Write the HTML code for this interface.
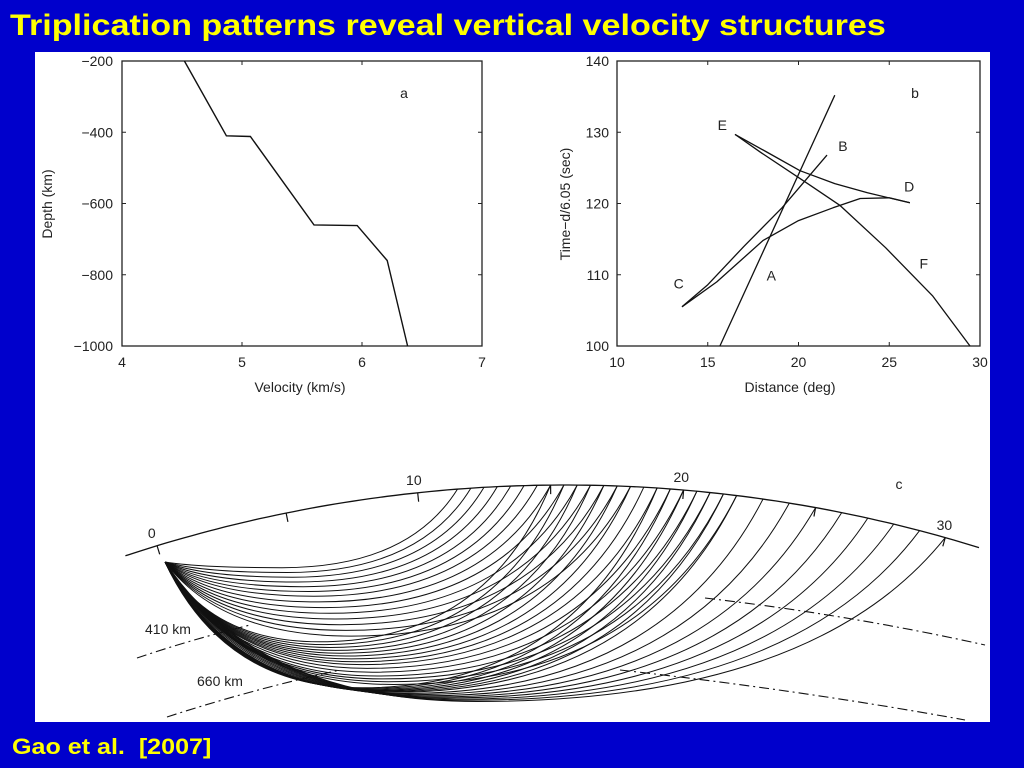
<!DOCTYPE html>
<html><head><meta charset="utf-8">
<style>
html,body{margin:0;padding:0;background:#0000cc;width:1024px;height:768px;overflow:hidden}
#title{position:absolute;left:10px;top:9px;color:#ffff00;font:bold 30px "Liberation Sans",sans-serif;white-space:nowrap;transform-origin:0 0;transform:scaleX(1.137)}
#cite{position:absolute;left:12px;top:734px;color:#ffff00;font:bold 22px "Liberation Sans",sans-serif;white-space:pre;transform-origin:0 0;transform:scaleX(1.14)}
#panel{position:absolute;left:35px;top:52px;width:955px;height:670px;background:#fff}
svg{position:absolute;left:0;top:0}
svg text{font-family:"Liberation Sans",sans-serif;fill:#222}
</style></head><body>
<div id="title">Triplication patterns reveal vertical velocity structures</div>
<div id="panel"></div>
<svg id="fig" width="1024" height="768"></svg>
<div id="cite">Gao et al.  [2007]</div>
<script>
// Panel a data
const velA = [4.52, 4.87, 5.07, 5.6, 5.96, 6.21, 6.38];
const depthA = [-200, -410, -412, -660, -662, -760, -1000];
const xTicksA = [4, 5, 6, 7];
const yTicksA = [-200, -400, -600, -800, -1000];
// Panel b data
const lineA_x = [15.67, 22.0];
const lineA_y = [100, 135.2];
const branchCB_x = [13.58, 15, 17, 19.09, 21.57];
const branchCB_y = [105.5, 108.6, 114, 119.4, 126.8];
const branchCD_x = [13.58, 15.5, 18.04, 20, 21.9, 23.4, 25.0, 26.14];
const branchCD_y = [105.5, 109, 114.8, 117.6, 119.4, 120.7, 120.8, 120.1];
const branchED_x = [16.5, 18.2, 20.08, 22, 23.8, 26.14];
const branchED_y = [129.7, 127.3, 124.6, 122.8, 121.5, 120.1];
const branchEF_x = [16.5, 17.9, 20.5, 22.3, 24.8, 27.4, 29.45];
const branchEF_y = [129.7, 127.2, 122.8, 119.7, 113.8, 107, 100];
const xTicksB = [10, 15, 20, 25, 30];
const yTicksB = [100, 110, 120, 130, 140];
const labelsB = ['E','B','D','F','A','C'];
const labelsBx = [15.8, 22.45, 26.1, 26.9, 18.5, 13.4];
const labelsBy = [130.3, 127.4, 121.7, 110.9, 109.2, 108.1];
// Panel c data: arrival distance (deg) and turning depth (km)
const rayDist = [11.5,12,12.5,13,13.5,14,14.5,15,15.5,16,16.5,17,17.5,18,
  15,15.5,16,16.5,17,17.5,18,18.5,19,19.5,20,20.5,21,21.5,22,
  19,19.5,20,20.5,21,21.5,22,23,24,25,26,27,28,29,30];
const rayDepth = [30,55,80,105,130,155,180,210,240,270,300,330,360,390,
  420,435,450,465,480,495,510,525,540,560,580,600,615,630,645,
  662,666,670,674,678,682,686,692,698,704,710,716,722,728,734];
const surfTicks = [0,5,10,15,20,25,30];
const surfLabels = ['0','','10','','20','','30'];

const NS='http://www.w3.org/2000/svg';
const svg=document.getElementById('fig');
function mk(tag,attrs,parent){const e=document.createElementNS(NS,tag);for(const k in attrs)e.setAttribute(k,attrs[k]);(parent||svg).appendChild(e);return e;}
function txt(x,y,s,size,anchor,parent){const t=mk('text',{x:x,y:y,'font-size':size,'text-anchor':anchor||'middle'},parent);t.textContent=s;return t;}

// ---------- Panel a ----------
const ga=mk('g',{});


const ax={l:122,r:482,t:61,b:346};
const xa=v=>ax.l+(v-4)/3*(ax.r-ax.l);
const ya=d=>ax.t+(-200-d)/800*(ax.b-ax.t);
const fa=mk('rect',{x:ax.l,y:ax.t,width:ax.r-ax.l,height:ax.b-ax.t,fill:'none',stroke:'#222','stroke-width':1.3},ga);


xTicksA.forEach(v=>{const x=xa(v);mk('line',{x1:x,y1:ax.b,x2:x,y2:ax.b-4,stroke:'#222'},ga);mk('line',{x1:x,y1:ax.t,x2:x,y2:ax.t+4,stroke:'#222'},ga);
 const t=txt(x,367,String(v),14,'middle',ga);});
yTicksA.forEach(v=>{const y=ya(v);mk('line',{x1:ax.l,y1:y,x2:ax.l+4,y2:y,stroke:'#222'},ga);mk('line',{x1:ax.r,y1:y,x2:ax.r-4,y2:y,stroke:'#222'},ga);
 const t=txt(113,y+5,'\u2212'+Math.abs(v),14,'end',ga);});
let pa='';velA.forEach((v,i)=>{pa+=(i?'L':'M')+xa(v).toFixed(1)+' '+ya(depthA[i]).toFixed(1);});
const la=mk('path',{d:pa,fill:'none',stroke:'#111','stroke-width':1.4},ga);


let t=txt(300,392,'Velocity (km/s)',14,'middle',ga);
t=txt(0,0,'Depth (km)',14,'middle',ga);t.setAttribute('transform','translate(52,204) rotate(-90)');
t=txt(404,98,'a',14,'middle',ga);

// ---------- Panel b ----------
const gb=mk('g',{});


const bx={l:617,r:980,t:61,b:346};
const xb=v=>bx.l+(v-10)/20*(bx.r-bx.l);
const yb=v=>bx.b-(v-100)/40*(bx.b-bx.t);
const fb=mk('rect',{x:bx.l,y:bx.t,width:bx.r-bx.l,height:bx.b-bx.t,fill:'none',stroke:'#222','stroke-width':1.3},gb);


xTicksB.forEach(v=>{const x=xb(v);mk('line',{x1:x,y1:bx.b,x2:x,y2:bx.b-4,stroke:'#222'},gb);mk('line',{x1:x,y1:bx.t,x2:x,y2:bx.t+4,stroke:'#222'},gb);
 const t=txt(x,367,String(v),14,'middle',gb);});
yTicksB.forEach(v=>{const y=yb(v);mk('line',{x1:bx.l,y1:y,x2:bx.l+4,y2:y,stroke:'#222'},gb);mk('line',{x1:bx.r,y1:y,x2:bx.r-4,y2:y,stroke:'#222'},gb);
 const t=txt(609,y+5,String(v),14,'end',gb);});
function curveB(xs,ys,name){let d='';xs.forEach((v,i)=>{d+=(i?'L':'M')+xb(v).toFixed(1)+' '+yb(ys[i]).toFixed(1);});
 const p=mk('path',{d:d,fill:'none',stroke:'#111','stroke-width':1.3,'stroke-linejoin':'round'},gb);
 
 }
curveB(lineA_x,lineA_y,'branch-a-line');
curveB(branchCB_x,branchCB_y,'branch-cb');
curveB(branchCD_x,branchCD_y,'branch-cd');
curveB(branchED_x,branchED_y,'branch-ed');
curveB(branchEF_x,branchEF_y,'branch-ef');
labelsB.forEach((s,i)=>{const t=txt(xb(labelsBx[i]),yb(labelsBy[i]),s,14,'middle',gb);
 
 });
t=txt(790,392,'Distance (deg)',14,'middle',gb);
t=txt(0,0,'Time\u2212d/6.05 (sec)',14,'middle',gb);t.setAttribute('transform','translate(570,204) rotate(-90)');
t=txt(915,98,'b',14,'middle',gb);

// ---------- Panel c ----------
const gc=mk('g',{});


const C={x:565,y:1885,R:1400};
const a0=-16.94, aPer=1.09;
function surf(dist,off){const a=(a0+dist*aPer)*Math.PI/180;const r=C.R-(off||0);return {x:C.x+r*Math.sin(a),y:C.y-r*Math.cos(a)};}
let d='';for(let i=0;i<=100;i++){const a=(-18.3+i*0.355)*Math.PI/180;const x=C.x+C.R*Math.sin(a),y=C.y-C.R*Math.cos(a);d+=(i?'L':'M')+x.toFixed(1)+' '+y.toFixed(1);}
const sa=mk('path',{d:d,fill:'none',stroke:'#111','stroke-width':1.3},gc);


surfTicks.forEach((v,i)=>{const p=surf(v);const p2=surf(v,9);
 mk('line',{x1:p.x,y1:p.y,x2:p2.x,y2:p2.y,stroke:'#111','stroke-width':1.2},gc);
 if(surfLabels[i]){const l=surf(v,-8);const t=txt(l.x-3,l.y,surfLabels[i],14,'middle',gc);
  }});
t=txt(899,489,'c',14,'middle',gc);
function dashSeg(x1,y1,cx,cy,x2,y2,name){const p=mk('path',{d:`M${x1} ${y1}Q${cx} ${cy} ${x2} ${y2}`,fill:'none',stroke:'#111','stroke-width':1.1,'stroke-dasharray':'10 4 2 4'},gc);
 }
dashSeg(137,658,190,640,250,625,'d410-left');
dashSeg(705,598,850,615,985,645,'d410-right');
dashSeg(167,717,250,690,340,670,'d660-left');
dashSeg(620,670,800,690,965,720,'d660-right');
t=txt(145,634,'410 km',14,'start',gc);
t=txt(197,686,'660 km',14,'start',gc);
const S={x:165,y:562};
const depthPx=k=>S.y+k*0.19;
rayDist.forEach((dist,i)=>{
 const E=surf(dist);
 const yb2=depthPx(rayDepth[i]);
 const xb2=S.x+(E.x-S.x)*0.4;
 const c1x=S.x+(xb2-S.x)*0.3, c2x=xb2+(E.x-xb2)*0.72;
 const p=mk('path',{d:`M${S.x} ${S.y}Q${c1x.toFixed(1)} ${yb2.toFixed(1)} ${xb2.toFixed(1)} ${yb2.toFixed(1)}Q${c2x.toFixed(1)} ${yb2.toFixed(1)} ${E.x.toFixed(1)} ${E.y.toFixed(1)}`,fill:'none',stroke:'#111','stroke-width':1},gc);
 
 
});
</script>
</body></html>
